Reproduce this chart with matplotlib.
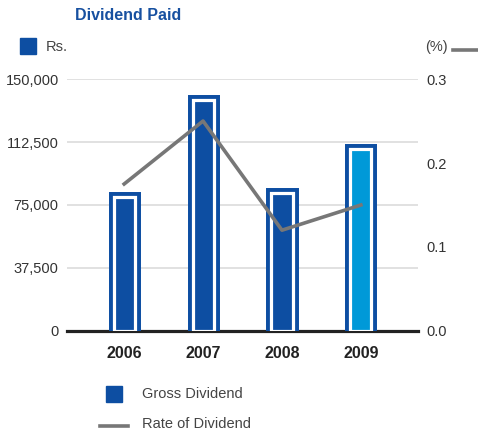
import matplotlib
matplotlib.use("Agg")
import matplotlib.pyplot as plt
from matplotlib.patches import Rectangle
from matplotlib.lines import Line2D

plt.rcParams['font.family'] = ['Liberation Sans Narrow', 'Liberation Sans', 'DejaVu Sans']

years = ["2006", "2007", "2008", "2009"]
gross_dividend = [79600, 137400, 82000, 108600]
rate_of_dividend = [0.175, 0.25, 0.12, 0.15]
left_ticks = [0, 37500, 75000, 112500, 150000]
left_labels = ["0", "37,500", "75,000", "112,500", "150,000"]
right_ticks = [0.0, 0.1, 0.2, 0.3]
right_labels = ["0.0", "0.1", "0.2", "0.3"]

BLUE = "#0d4ea2"
LIGHT_BLUE = "#0099d8"
GREY = "#777777"
fills = [BLUE, BLUE, BLUE, LIGHT_BLUE]

fig = plt.figure(figsize=(4.78, 4.37), dpi=100)
ax = fig.add_axes([0.1402, 0.2426, 0.7343, 0.5766])
x = list(range(len(years)))

ax.set_xlim(-0.724, 3.724)
ax.set_ylim(0, 150000)
for t in left_ticks[1:]:
    ax.axhline(t, color="#d9d9d9", lw=1.1, zorder=0)
ax.axhline(0, color="#222222", lw=2.3, zorder=1, clip_on=False)

# outer blue frame, white gap, inner fill
ax.bar(x, gross_dividend, width=0.267, color=BLUE, edgecolor=BLUE, lw=7.9, zorder=2)
ax.bar(x, gross_dividend, width=0.267, color=fills, edgecolor="white", lw=2.3, zorder=3)

for s in ax.spines.values():
    s.set_visible(False)
ax.set_yticks(left_ticks)
ax.set_yticklabels(left_labels, fontsize=10.5, color="#333333")
ax.set_xticks(x)
ax.set_xticklabels(years, fontsize=11.5, fontweight="bold", color="#222222")
ax.tick_params(axis="y", length=0, pad=6)
ax.tick_params(axis="x", length=0, pad=11)

ax2 = ax.twinx()
ax2.set_ylim(0, 0.3)
ax2.plot(x, rate_of_dividend, color=GREY, lw=2.6, zorder=4)
for s in ax2.spines.values():
    s.set_visible(False)
ax2.set_yticks(right_ticks)
ax2.set_yticklabels(right_labels, fontsize=10.5, color="#333333")
ax2.tick_params(axis="y", length=0, pad=6)

# title and axis unit markers
fig.text(128 / 478, 1 - 16 / 437, "Dividend Paid", ha="center", va="center",
         fontsize=11.5, fontweight="bold", color="#1750a0")
fig.add_artist(Rectangle((20 / 478, 1 - 54 / 437), 16 / 478, 16 / 437,
                         transform=fig.transFigure, color=BLUE))
fig.text(46 / 478, 1 - 47 / 437, "Rs.", ha="left", va="center", fontsize=10.5, color="#444444")
fig.text(425 / 478, 1 - 47 / 437, "(%)", ha="left", va="center", fontsize=10.5, color="#444444")
fig.add_artist(Line2D([453 / 478, 478 / 478], [1 - 50 / 437, 1 - 50 / 437],
                      transform=fig.transFigure, color=GREY, lw=2.6))

# bottom legend
fig.add_artist(Rectangle((106 / 478, 1 - 402 / 437), 16 / 478, 16 / 437,
                         transform=fig.transFigure, color=BLUE))
fig.text(142 / 478, 1 - 394 / 437, "Gross Dividend", ha="left", va="center",
         fontsize=10.5, color="#444444")
fig.add_artist(Line2D([100 / 478, 128 / 478], [1 - 426 / 437, 1 - 426 / 437],
                      transform=fig.transFigure, color=GREY, lw=2.6))
fig.text(142 / 478, 1 - 424 / 437, "Rate of Dividend", ha="left", va="center",
         fontsize=10.5, color="#444444")

plt.savefig("out.png", dpi=100)
